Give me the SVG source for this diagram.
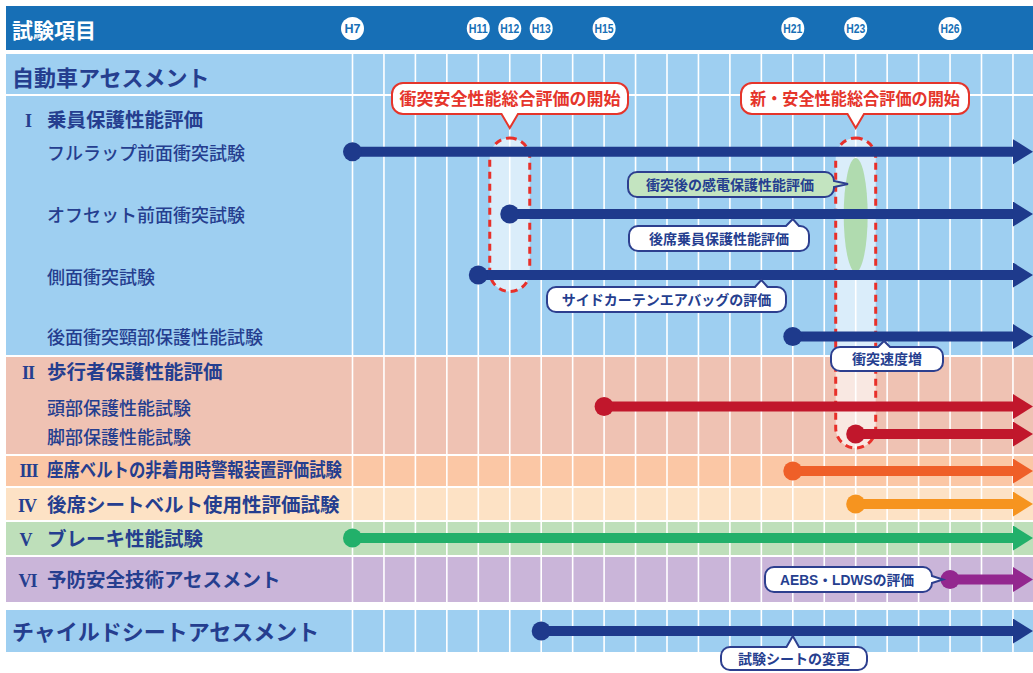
<svg xmlns="http://www.w3.org/2000/svg" width="1033" height="673" viewBox="0 0 1033 673">
<style>
.lbl{font-family:"Noto Sans CJK JP",sans-serif;fill:#253e8f}
.h1{font-size:22px;font-weight:700}
.h2{font-size:19.5px;font-weight:700}
.sub{font-size:18px;font-weight:500}
.rn{font-family:"Liberation Serif",serif;font-weight:700;font-size:18px;fill:#253e8f;text-anchor:middle;letter-spacing:-1px}
.yr circle{fill:#fff}
.yr text{font-family:"Liberation Sans",sans-serif;font-weight:700;font-size:12.5px;fill:#176fb6;text-anchor:middle}
.co{fill:#fff;stroke:#2d3f8f;stroke-width:2}
.cot{font-family:"Liberation Sans","Noto Sans CJK JP",sans-serif;font-size:14px;font-weight:700;fill:#253e8f;text-anchor:middle}
.rco{fill:#fff;stroke:#e5352b;stroke-width:2}
.rcot{font-family:"Noto Sans CJK JP",sans-serif;font-size:17px;font-weight:700;fill:#e5352b;text-anchor:middle}
.pill{fill:#fff;fill-opacity:.62;stroke:#e8302a;stroke-width:3;stroke-dasharray:7 5}
.ln{stroke-width:10;fill:none}
</style>
<defs>
<marker id="a-navy" markerUnits="userSpaceOnUse" markerWidth="21" markerHeight="26" refX="0" refY="12.5" orient="auto"><path d="M0,0 L20,12.5 L0,25 Z" fill="#1e3a8c"/></marker>
<marker id="a-red" markerUnits="userSpaceOnUse" markerWidth="21" markerHeight="26" refX="0" refY="12.5" orient="auto"><path d="M0,0 L20,12.5 L0,25 Z" fill="#c1172c"/></marker>
<marker id="a-or" markerUnits="userSpaceOnUse" markerWidth="21" markerHeight="26" refX="0" refY="12.5" orient="auto"><path d="M0,0 L20,12.5 L0,25 Z" fill="#ef5f28"/></marker>
<marker id="a-yl" markerUnits="userSpaceOnUse" markerWidth="21" markerHeight="26" refX="0" refY="12.5" orient="auto"><path d="M0,0 L20,12.5 L0,25 Z" fill="#f6941f"/></marker>
<marker id="a-gr" markerUnits="userSpaceOnUse" markerWidth="21" markerHeight="26" refX="0" refY="12.5" orient="auto"><path d="M0,0 L20,12.5 L0,25 Z" fill="#22b06a"/></marker>
<marker id="a-pu" markerUnits="userSpaceOnUse" markerWidth="21" markerHeight="26" refX="0" refY="12.5" orient="auto"><path d="M0,0 L20,12.5 L0,25 Z" fill="#93278f"/></marker>
</defs>
<rect width="1033" height="673" fill="#fff"/>
<g id="backgrounds">
<rect x="6" y="6" width="1027" height="44" fill="#176fb6"/>
<rect x="6" y="54" width="1027" height="40" fill="#9ecff1"/>
<rect x="6" y="96" width="1027" height="259" fill="#9ecff1"/>
<rect x="6" y="357" width="1027" height="97" fill="#efc2b3"/>
<rect x="6" y="456" width="1027" height="30" fill="#fbc7a5"/>
<rect x="6" y="488" width="1027" height="32" fill="#fde2c5"/>
<rect x="6" y="522" width="1027" height="33" fill="#bedfba"/>
<rect x="6" y="557" width="1027" height="45" fill="#cab5d9"/>
<rect x="6" y="610" width="1027" height="42" fill="#9ecff1"/>
</g>
<g id="grid" stroke="#fff" stroke-width="1.6">
<path d="M352.5,54V652M383.95,54V652M415.4,54V652M446.85,54V652M478.3,54V652M509.75,54V652M541.2,54V652M572.65,54V652M604.1,54V652M635.55,54V652M667,54V652M698.45,54V652M729.9,54V652M761.35,54V652M792.8,54V652M824.25,54V652M855.7,54V652M887.15,54V652M918.6,54V652M950.05,54V652M981.5,54V652M1012.95,54V652"/>
</g>
<g id="header">
<text x="12" y="38" font-family="Noto Sans CJK JP,sans-serif" font-size="21" font-weight="700" fill="#fff">試験項目</text>
</g>
<g id="years" class="yr">
<circle cx="352.5" cy="28.5" r="11.5"/><text x="352.5" y="33">H7</text>
<circle cx="478.3" cy="28.5" r="11.5"/><text x="478.3" y="33" textLength="19" lengthAdjust="spacingAndGlyphs">H11</text>
<circle cx="509.75" cy="28.5" r="11.5"/><text x="509.75" y="33" textLength="19" lengthAdjust="spacingAndGlyphs">H12</text>
<circle cx="541.2" cy="28.5" r="11.5"/><text x="541.2" y="33" textLength="19" lengthAdjust="spacingAndGlyphs">H13</text>
<circle cx="604.1" cy="28.5" r="11.5"/><text x="604.1" y="33" textLength="19" lengthAdjust="spacingAndGlyphs">H15</text>
<circle cx="792.8" cy="28.5" r="11.5"/><text x="792.8" y="33" textLength="19" lengthAdjust="spacingAndGlyphs">H21</text>
<circle cx="855.7" cy="28.5" r="11.5"/><text x="855.7" y="33" textLength="19" lengthAdjust="spacingAndGlyphs">H23</text>
<circle cx="950.05" cy="28.5" r="11.5"/><text x="950.05" y="33" textLength="19" lengthAdjust="spacingAndGlyphs">H26</text>
</g>
<g id="pill-h12"><rect class="pill" x="489.75" y="138" width="40" height="153.5" rx="20"/></g>
<g id="pill-h23"><rect class="pill" x="835.7" y="138" width="40" height="310" rx="20"/></g>
<g id="ellipse-h23"><ellipse cx="855.7" cy="215" rx="12" ry="57" fill="#b0dbaf"/></g>
<g id="row-auto"><text class="lbl h1" x="12" y="85.5">自動車アセスメント</text></g>
<g id="row-I">
<text class="rn" x="28" y="127">I</text>
<text class="lbl h2" x="47" y="127.4">乗員保護性能評価</text>
</g>
<g id="row-fulllap"><text class="lbl sub" x="47" y="160">フルラップ前面衝突試験</text></g>
<g id="row-offset"><text class="lbl sub" x="47" y="221.8">オフセット前面衝突試験</text></g>
<g id="row-side"><text class="lbl sub" x="47" y="283.5">側面衝突試験</text></g>
<g id="row-rear"><text class="lbl sub" x="47" y="343.5">後面衝突頸部保護性能試験</text></g>
<g id="row-II">
<text class="rn" x="28" y="379">II</text>
<text class="lbl h2" x="47" y="379">歩行者保護性能評価</text>
</g>
<g id="row-head"><text class="lbl sub" x="47" y="415">頭部保護性能試験</text></g>
<g id="row-leg"><text class="lbl sub" x="47" y="444">脚部保護性能試験</text></g>
<g id="row-III">
<text class="rn" x="28.5" y="477">III</text>
<text class="lbl h2" x="47" y="477" font-size="18" textLength="295" lengthAdjust="spacingAndGlyphs">座席ベルトの非着用時警報装置評価試験</text>
</g>
<g id="row-IV">
<text class="rn" x="27" y="512">IV</text>
<text class="lbl h2" x="47" y="512.4">後席シートベルト使用性評価試験</text>
</g>
<g id="row-V">
<text class="rn" x="25.5" y="545.5">V</text>
<text class="lbl h2" x="47" y="545.7">ブレーキ性能試験</text>
</g>
<g id="row-VI">
<text class="rn" x="27.5" y="587">VI</text>
<text class="lbl h2" x="47" y="587.4">予防安全技術アセスメント</text>
</g>
<g id="row-child"><text class="lbl h1" x="12" y="639.5">チャイルドシートアセスメント</text></g>
<g id="connectors">
<line class="ln" x1="352.5" y1="151.7" x2="1013" y2="151.7" stroke="#1e3a8c" marker-end="url(#a-navy)"/>
<circle cx="352.5" cy="151.7" r="9.5" fill="#1e3a8c"/>
<line class="ln" x1="509.75" y1="214" x2="1013" y2="214" stroke="#1e3a8c" marker-end="url(#a-navy)"/>
<circle cx="509.75" cy="214" r="9.5" fill="#1e3a8c"/>
<line class="ln" x1="478.3" y1="275" x2="1013" y2="275" stroke="#1e3a8c" marker-end="url(#a-navy)"/>
<circle cx="478.3" cy="275" r="9.5" fill="#1e3a8c"/>
<line class="ln" x1="792.8" y1="336.5" x2="1013" y2="336.5" stroke="#1e3a8c" marker-end="url(#a-navy)"/>
<circle cx="792.8" cy="336.5" r="9.5" fill="#1e3a8c"/>
<line class="ln" x1="604.1" y1="406.5" x2="1013" y2="406.5" stroke="#c1172c" marker-end="url(#a-red)"/>
<circle cx="604.1" cy="406.5" r="9.5" fill="#c1172c"/>
<line class="ln" x1="855.7" y1="434" x2="1013" y2="434" stroke="#c1172c" marker-end="url(#a-red)"/>
<circle cx="855.7" cy="434" r="9.5" fill="#c1172c"/>
<line class="ln" x1="792.8" y1="471" x2="1013" y2="471" stroke="#ef5f28" marker-end="url(#a-or)"/>
<circle cx="792.8" cy="471" r="9.5" fill="#ef5f28"/>
<line class="ln" x1="855.7" y1="504" x2="1013" y2="504" stroke="#f6941f" marker-end="url(#a-yl)"/>
<circle cx="855.7" cy="504" r="9.5" fill="#f6941f"/>
<line class="ln" x1="352.5" y1="538" x2="1013" y2="538" stroke="#22b06a" marker-end="url(#a-gr)"/>
<circle cx="352.5" cy="538" r="9.5" fill="#22b06a"/>
<line class="ln" x1="950.05" y1="579.5" x2="1013" y2="579.5" stroke="#93278f" marker-end="url(#a-pu)"/>
<circle cx="950.05" cy="579.5" r="9.5" fill="#93278f"/>
<line class="ln" x1="541.2" y1="631" x2="1013" y2="631" stroke="#1e3a8c" marker-end="url(#a-navy)"/>
<circle cx="541.2" cy="631" r="9.5" fill="#1e3a8c"/>
</g>
<g id="callout-sougou">
<path class="rco" d="M403,83 H617 A11,11 0 0 1 628,94 V103 A11,11 0 0 1 617,114 H518 L509.75,128 L501.5,114 H403 A11,11 0 0 1 392,103 V94 A11,11 0 0 1 403,83 Z"/>
<text class="rcot" x="510" y="104.5">衝突安全性能総合評価の開始</text>
</g>
<g id="callout-shin">
<path class="rco" d="M752,83 H958 A11,11 0 0 1 969,94 V103 A11,11 0 0 1 958,114 H864 L855.7,128 L847.5,114 H752 A11,11 0 0 1 741,103 V94 A11,11 0 0 1 752,83 Z"/>
<text class="rcot" x="855" y="104.5" textLength="210" lengthAdjust="spacingAndGlyphs">新・安全性能総合評価の開始</text>
</g>
<g id="callout-kanden">
<path class="co" style="fill:#c3e4c0" d="M637,172 H825 A9,9 0 0 1 834,181 L848,184 L834,187 V188 A9,9 0 0 1 825,197 H637 A9,9 0 0 1 628,188 V181 A9,9 0 0 1 637,172 Z"/>
<text class="cot" x="730" y="189.7" font-size="14.5">衝突後の感電保護性能評価</text>
</g>
<g id="callout-kouseki">
<path class="co" d="M638,226 H786 L792.8,219 L799,226 H800 A9,9 0 0 1 809,235 V242 A9,9 0 0 1 800,251 H638 A9,9 0 0 1 629,242 V235 A9,9 0 0 1 638,226 Z"/>
<text class="cot" x="719" y="243.5">後席乗員保護性能評価</text>
</g>
<g id="callout-side">
<path class="co" d="M556,287 H755 L761.35,280 L767.5,287 H777 A9,9 0 0 1 786,296 V303 A9,9 0 0 1 777,312 H556 A9,9 0 0 1 547,303 V296 A9,9 0 0 1 556,287 Z"/>
<text class="cot" x="666.5" y="304.5">サイドカーテンエアバッグの評価</text>
</g>
<g id="callout-sokudo">
<path class="co" d="M840,347 H878 L884,341 L890,347 H934 A9,9 0 0 1 943,356 V362 A9,9 0 0 1 934,371 H840 A9,9 0 0 1 831,362 V356 A9,9 0 0 1 840,347 Z"/>
<text class="cot" x="887" y="364">衝突速度増</text>
</g>
<g id="callout-aebs">
<path class="co" d="M774,567 H923 A9,9 0 0 1 932,576 L943,579.5 L932,583 A9,9 0 0 1 923,592 H774 A9,9 0 0 1 765,583 V576 A9,9 0 0 1 774,567 Z"/>
<text class="cot" x="847" y="585" textLength="134" lengthAdjust="spacingAndGlyphs">AEBS・LDWSの評価</text>
</g>
<g id="callout-seat">
<path class="co" d="M730,647 H786.5 L792.8,636 L799,647 H858 A9,9 0 0 1 867,656 V661 A9,9 0 0 1 858,670 H730 A9,9 0 0 1 721,661 V656 A9,9 0 0 1 730,647 Z"/>
<text class="cot" x="794" y="663.5">試験シートの変更</text>
</g>
</svg>
